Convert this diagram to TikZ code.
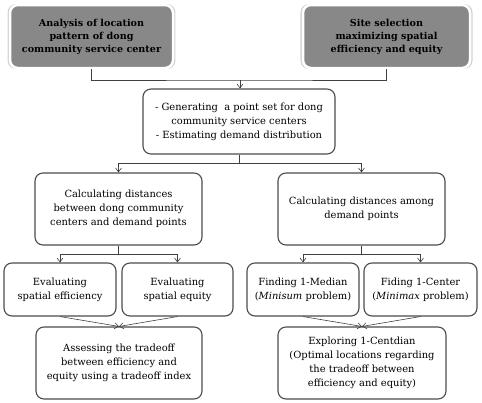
\documentclass[tikz,border=0pt]{standalone}
\usepackage{fontspec}
\setmainfont{DejaVu Serif}
\usetikzlibrary{arrows.meta,positioning,shadows}

\begin{document}
\begin{tikzpicture}[x=1pt, y=-1pt,
  goal/.style={fill=gray!93!white, draw=white, line width=2.5pt, rounded corners=8pt,
    drop shadow={shadow xshift=0pt, shadow yshift=0pt, opacity=0.35, shadow scale=1.03},
    align=center, font=\fontsize{9.6}{13}\selectfont\bfseries, inner sep=2pt},
  task/.style={draw=black!70, line width=1.1pt, rounded corners=8pt, fill=white,
    align=center, font=\fontsize{9.9}{14}\selectfont, inner sep=2pt},
  link/.style={draw=black!75, line width=0.6pt},
  edge/.style={link, -{Straight Barb[length=4pt, width=6pt]}}]
  \useasboundingbox (0,0) rectangle (482,402);
  % 目标层
  \node[goal, minimum width=163pt, minimum height=63pt] (ana) at (91.5,36.5)
    {Analysis of location\\pattern of dong\\community service center};
  \node[goal, minimum width=167pt, minimum height=63pt] (sel) at (386.5,36.5)
    {Site selection\\maximizing spatial\\efficiency and equity};
  % 数据准备
  \node[task, minimum width=192pt, minimum height=65pt] (gen) at (239,121.5)
    {- Generating\ \ a point set for dong\\community service centers\\- Estimating demand distribution};
  % 距离计算
  \node[task, minimum width=167pt, minimum height=72pt] (dcc) at (118.5,209)
    {Calculating distances\\between dong community\\centers and demand points};
  \node[task, minimum width=167pt, minimum height=72pt] (ddp) at (361.5,209)
    {Calculating distances among\\demand points};
  % 评价与求解
  \node[task, minimum width=112pt, minimum height=53pt] (eff) at (60,289.5)
    {Evaluating\\spatial efficiency};
  \node[task, minimum width=111pt, minimum height=53pt] (equ) at (177.5,289.5)
    {Evaluating\\spatial equity};
  \node[task, minimum width=112pt, minimum height=53pt] (med) at (303,289.5)
    {Finding 1-Median\\(\textit{Minisum} problem)};
  \node[task, minimum width=113pt, minimum height=53pt] (cen) at (420.5,289.5)
    {Fiding 1-Center\\(\textit{Minimax} problem)};
  % 综合
  \node[task, minimum width=166pt, minimum height=72pt] (trd) at (119,363)
    {Assessing the tradeoff\\between efficiency and\\equity using a tradeoff index};
  \node[task, minimum width=168pt, minimum height=72pt] (ctd) at (362,363)
    {Exploring 1-Centdian\\(Optimal locations regarding\\the tradeoff between\\efficiency and equity)};
  % 箭头
  \coordinate (j0) at (240,80);
  \draw[link] (ana.south) |- (j0) -| (sel.south);
  \draw[edge] (j0) -- (gen.north -| j0);
  \coordinate (j1) at (gen.south |- 0,163);
  \draw[link] (gen.south) -- (j1);
  \draw[edge] (j1) -| (dcc.north);
  \draw[edge] (j1) -| (ddp.north);
  \coordinate (j2) at (dcc.south |- 0,254);
  \draw[link] (dcc.south) -- (j2);
  \draw[edge] (j2) -| (eff.north);
  \draw[edge] (j2) -| (equ.north);
  \coordinate (j3) at (ddp.south |- 0,254);
  \draw[link] (ddp.south) -- (j3);
  \draw[edge] (j3) -| (med.north);
  \draw[edge] (j3) -| (cen.north);
  \draw[edge] (eff.south) -- (trd.north);
  \draw[edge] (equ.south) -- (trd.north);
  \draw[edge] (med.south) -- (ctd.north);
  \draw[edge] (cen.south) -- (ctd.north);
\end{tikzpicture}
\end{document}
